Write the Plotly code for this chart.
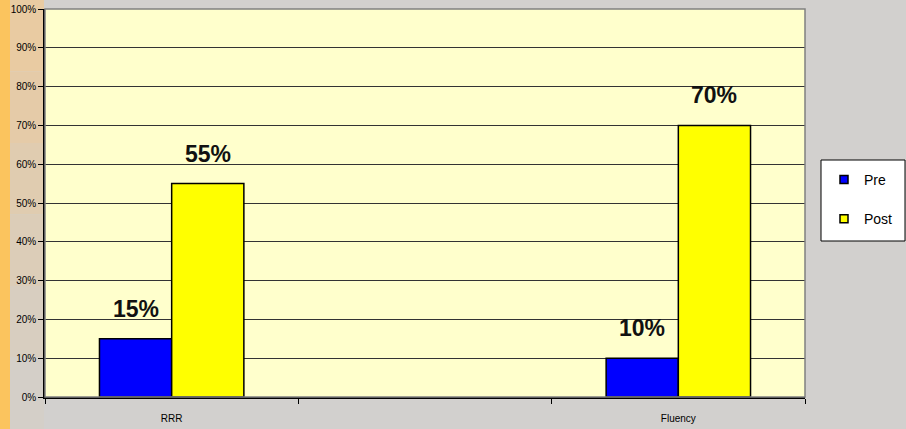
import plotly.graph_objects as go

categories = ["RRR", " ", "Fluency"]
pre_values = [0.15, None, 0.10]
post_values = [0.55, None, 0.70]
pre_labels = ["15%", "", "10%"]
post_labels = ["55%", "", "70%"]
series_names = ["Pre", "Post"]
series_colors = ["#0000FF", "#FFFF00"]
y_ticks = [i / 10 for i in range(11)]
y_tick_labels = [f"{i*10}%" for i in range(11)]

fig = go.Figure()
for name, vals, col in zip(series_names, [pre_values, post_values], series_colors):
    fig.add_trace(go.Bar(name=name, x=categories, y=vals, showlegend=False,
                         marker=dict(color=col, line=dict(color="#000000", width=1.5))))
# legend entries with small square symbols
for i, (name, col) in enumerate(zip(series_names, series_colors)):
    fig.add_trace(go.Scatter(name=name, x=[None], y=[None], mode="markers",
                             legendgroup=f"g{i}",
                             marker=dict(symbol="square", size=8, color=col,
                                         line=dict(color="#000000", width=1.5))))

ann = []
for c, v, t in zip(categories, pre_values, pre_labels):
    if v is not None:
        ann.append(dict(x=c, y=v, text=f"<b>{t}</b>", xshift=-36, yshift=15, showarrow=False,
                        yanchor="bottom", font=dict(size=23, family="Liberation Sans, Arial", color="#111111")))
for c, v, t in zip(categories, post_values, post_labels):
    if v is not None:
        ann.append(dict(x=c, y=v, text=f"<b>{t}</b>", xshift=36, yshift=15, showarrow=False,
                        yanchor="bottom", font=dict(size=23, family="Liberation Sans, Arial", color="#111111")))

L, R, T, B = 45, 101, 9, 32
W, H = 906, 429
pw = W - L - R
ph = H - T - B

def px2x(p):
    return (p - L) / pw

def py2y(p):
    return (H - B - p) / ph

shapes = []
tan_cols = ["#E9CBA2", "#E5CBA8", "#E0CCB0", "#DCCDB8", "#D8CEC0", "#D4CFC8"]
n = len(tan_cols)
for i, col in enumerate(tan_cols):
    shapes.append(dict(type="rect", xref="paper", yref="paper", layer="below",
                       x0=px2x(10), x1=px2x(44), y0=py2y(429 * (i + 1) / n), y1=py2y(429 * i / n),
                       fillcolor=col, line=dict(width=0)))
shapes.append(dict(type="rect", xref="paper", yref="paper", layer="below",
                   x0=px2x(0), x1=px2x(10), y0=py2y(429), y1=py2y(0),
                   fillcolor="#FBC45E", line=dict(width=0)))
shapes.append(dict(type="rect", xref="paper", yref="paper", layer="above",
                   x0=0, x1=1, y0=0, y1=1, line=dict(color="#808080", width=1.5)))
# legend box
shapes.append(dict(type="rect", xref="paper", yref="paper", layer="below",
                   x0=px2x(821), x1=px2x(905), y0=py2y(241), y1=py2y(160),
                   fillcolor="#FFFFFF", line=dict(color="#000000", width=1)))

fig.update_layout(
    width=W, height=H,
    margin=dict(l=L, r=R, t=T, b=B, autoexpand=False),
    paper_bgcolor="#D2D0CE",
    plot_bgcolor="#FFFFCC",
    barmode="group",
    bargap=0.43,
    bargroupgap=0,
    font=dict(family="Liberation Sans, Arial", color="#000000"),
    annotations=ann,
    shapes=shapes,
    showlegend=True,
    legend=dict(x=px2x(824), y=py2y(164), xanchor="left", yanchor="top",
                bgcolor="rgba(0,0,0,0)", borderwidth=0,
                font=dict(size=14, family="Liberation Sans Narrow, Liberation Sans, Arial"),
                tracegroupgap=18, itemwidth=30),
    xaxis=dict(type="category", categoryorder="array", categoryarray=categories,
               showgrid=False, showline=True, linecolor="#000000", linewidth=1.5,
               ticks="outside", tickson="boundaries", ticklen=5, tickcolor="#000000",
               tickfont=dict(size=10), ticklabelstandoff=11, automargin=False, fixedrange=True),
    yaxis=dict(range=[0, 1], tickvals=y_ticks, ticktext=y_tick_labels,
               showgrid=True, gridcolor="#333333", gridwidth=1,
               showline=True, linecolor="#000000", linewidth=1.5,
               ticks="outside", ticklen=5, tickcolor="#000000",
               tickfont=dict(size=10), zeroline=False, automargin=False, fixedrange=True),
)

fig.write_html("out.html")
